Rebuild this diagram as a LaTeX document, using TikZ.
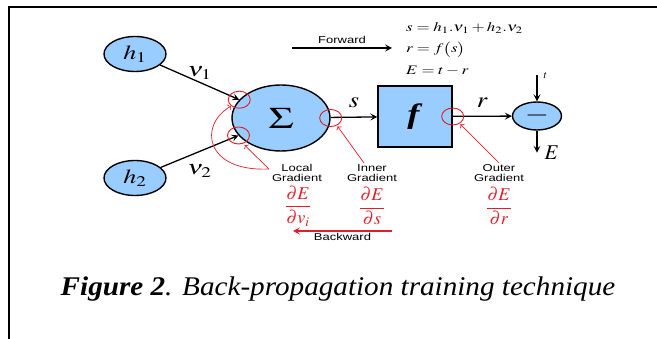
\documentclass[tikz,border=0pt]{standalone}
\usepackage{amsmath}
\usepackage{mathptmx}
\usepackage[no-math]{fontspec}
\setmainfont{Liberation Serif}
\newfontfamily\arialfont{Liberation Sans}
\usepackage{tikz}
\usetikzlibrary{shapes.geometric}
\usetikzlibrary{arrows.meta}
\definecolor{nodeblue}{RGB}{153,204,255}
\definecolor{gradred}{RGB}{225,30,40}
\newcommand{\wide}[2][1.3]{\scalebox{#1}[1]{#2}}

\begin{document}
\begin{tikzpicture}[x=1pt, y=-1pt,
            neuron/.style={ellipse, draw=black, line width=1.4pt, fill=nodeblue, inner sep=0pt},
            wire/.style={line width=1.3pt, -{Stealth[length=7pt, width=7pt, inset=3pt]}},
            gradring/.style={ellipse, draw=gradred, line width=0.9pt, minimum width=22pt, minimum height=17pt, inner sep=0pt},
            gradarrow/.style={draw=gradred, line width=0.7pt, -{To[length=3pt]}},
            wordtag/.style={inner sep=1pt, font=\fontsize{10}{10.5}\arialfont, align=center},
            gradfrac/.style={inner sep=1pt, text=gradred, font=\fontsize{18}{18}\selectfont}]
            \useasboundingbox (0,0) rectangle (657,339);
            \draw[line width=1.8pt] (657,7) -- (9,7) -- (9,339);
            \node[neuron, minimum width=62pt, minimum height=35pt] (h1) at (135,54) {\fontsize{20}{20}\selectfont\wide{$h_1$}};
            \node[neuron, minimum width=62pt, minimum height=35pt] (h2) at (135,178) {\fontsize{20}{20}\selectfont\wide{$h_2$}};
            \node[neuron, minimum width=98pt, minimum height=66pt] (sum) at (281,118) {\fontsize{30}{30}\selectfont\wide[1.4]{$\Sigma$}};
            \node[draw, line width=1.4pt, fill=nodeblue, minimum width=74pt, minimum height=61pt, inner sep=0pt] (act) at (415,116.5) {\fontsize{28}{28}\selectfont\wide{\textbf{\textit{f}}}};
            \node[neuron, minimum width=49pt, minimum height=28pt] (diff) at (537,116) {\fontsize{24}{24}\selectfont\wide{$-$}};
            \draw[wire] (h1) -- (sum) node[midway, above=1pt, inner sep=1pt, font=\fontsize{20}{20}\selectfont] {\wide{$\nu_1$}} coordinate[pos=1] (in1);
            \draw[wire] (h2) -- (sum) node[midway, below=11pt, inner sep=1pt, font=\fontsize{20}{20}\selectfont] {\wide{$\nu_2$}} coordinate[pos=1] (in2);
            \draw[wire] (sum) -- (act) node[midway, above=8pt, inner sep=1pt, font=\fontsize{22}{22}\selectfont] {\wide[1.2]{$s$}};
            \draw[wire] (act) -- (diff) node[midway, above=7pt, inner sep=1pt, font=\fontsize{22}{22}\selectfont] {\wide[1.2]{$r$}};
            \path (diff.north) ++(0,-26) coordinate (tin);
            \path (diff.south) ++(0,22) coordinate (eout);
            \draw[wire] (tin) node[right=5pt, inner sep=1pt, font=\fontsize{11}{11}\selectfont] {$t$} -- (diff);
            \draw[wire] (diff) -- (eout) node[right=6pt, inner sep=1pt, font=\fontsize{21}{21}\selectfont] {$E$};
            \node[gradring] (rg1) at (in1) {};
            \node[gradring] (rg2) at (in2) {};
            \node[gradring] (rgs) at (sum.east) {};
            \node[gradring] (rgr) at (act.east) {};
            \coordinate (fwstart) at (292,48);
            \coordinate (fwend) at (392,48);
            \draw[wire] (fwstart) -- (fwend) node[midway, above=3pt, wordtag] {\wide{Forward}};
            \node[anchor=west, inner sep=0pt, align=left, font=\fontsize{13}{21.5}\selectfont] (eqs) at (406,49) {\wide[1.3]{$s=h_1.\nu_1+h_2.\nu_2$}\\\wide[1.3]{$r=f\bigl(s\bigr)$}\\\wide[1.3]{$E=t-r$}};
            \node[wordtag] (local) at (297,173) {\wide{Local}\\\wide{Gradient}};
            \node[wordtag] (inner) at (372,173) {\wide{Inner}\\\wide{Gradient}};
            \node[wordtag] (outer) at (499,173) {\wide{Outer}\\\wide{Gradient}};
            \node[gradfrac] (dlocal) at (298,206) {$\dfrac{\partial E}{\partial v_i}$};
            \node[gradfrac] (dinner) at (372,206) {$\dfrac{\partial E}{\partial s}$};
            \node[gradfrac] (douter) at (499,206) {$\dfrac{\partial E}{\partial r}$};
            \coordinate (lg) at ([shift={(-2pt,4pt)}]local.west);
            \draw[gradarrow] (lg) .. controls (205,172) and (198,125) .. (rg1.south west);
            \draw[gradarrow, shorten >=2pt] (lg) -- (rg2.-60);
            \draw[gradarrow, shorten >=1pt] ([xshift=-8pt]inner.north) -- (rgs.-50);
            \draw[gradarrow, shorten >=1pt] (outer.north) -- (rgr.-45);
            \coordinate (bwstart) at (392,231);
            \coordinate (bwend) at (293,231);
            \draw[gradarrow, line width=1.5pt, -{Stealth[length=7pt, width=7pt, inset=3pt]}] (bwstart) -- (bwend) node[midway, below=1pt, wordtag, text=black] {\wide{Backward}};
            \node[font=\fontsize{27}{27}\selectfont] (caption) at (338,289) {\wide[1.08]{\textbf{\textit{Figure 2}}\textit{. Back-propagation training technique}}};
        \end{tikzpicture}
\end{document}
